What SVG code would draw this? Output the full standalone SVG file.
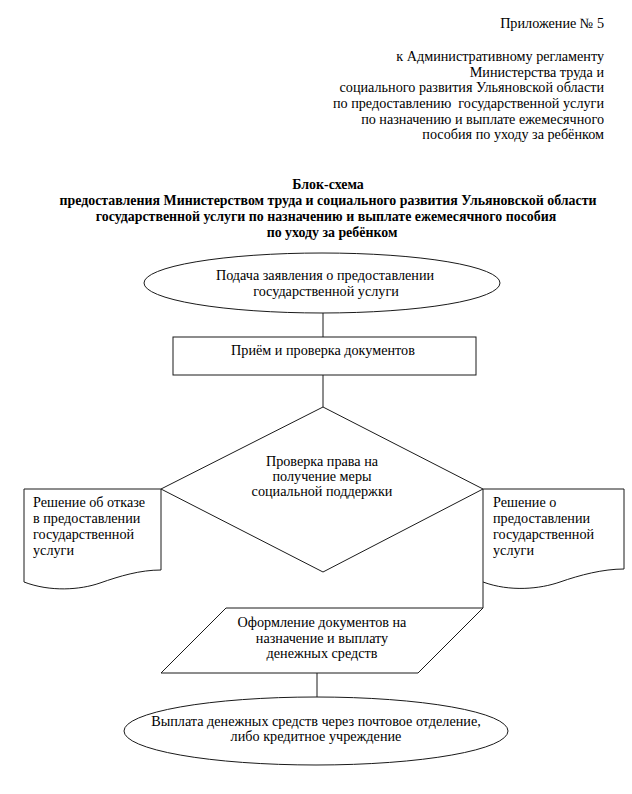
<svg xmlns="http://www.w3.org/2000/svg" width="632" height="794" viewBox="0 0 632 794">
<style>
text{font-family:"Liberation Serif","Times New Roman",serif;font-size:14.2px;fill:#000}
.r{text-anchor:end}
.c{text-anchor:middle}
.b{font-weight:bold;text-anchor:middle;font-size:13.9px}
.s{fill:#fff;stroke:#1a1a1a;stroke-width:1}
.ln{stroke:#1a1a1a;stroke-width:1;fill:none}
</style>
<rect width="632" height="794" fill="#fff"/>
<g id="header">
<text class="r" x="604" y="28">Приложение № 5</text>
<text class="r" x="604" y="61">к Административному регламенту</text>
<text class="r" x="604" y="77">Министерства труда и</text>
<text class="r" x="604" y="92">социального развития Ульяновской области</text>
<text class="r" x="604" y="108" xml:space="preserve">по предоставлению  государственной услуги</text>
<text class="r" x="604" y="124">по назначению и выплате ежемесячного</text>
<text class="r" x="604" y="139">пособия по уходу за ребёнком</text>
</g>
<g id="title">
<text class="b" x="328" y="189">Блок-схема</text>
<text class="b" x="328" y="205">предоставления Министерством труда и социального развития Ульяновской области</text>
<text class="b" x="326" y="221">государственной услуги по назначению и выплате ежемесячного пособия</text>
<text class="b" x="332" y="237">по уходу за ребёнком</text>
</g>
<g id="connectors">
<line class="ln" x1="323" y1="313" x2="323" y2="337"/>
<line class="ln" x1="323" y1="375" x2="323" y2="407"/>
<line class="ln" x1="483" y1="582" x2="483" y2="608"/>
<line class="ln" x1="317" y1="673" x2="317" y2="698"/>
</g>
<g id="start">
<ellipse class="s" cx="322" cy="283" rx="178" ry="30"/>
<text class="c" x="325" y="280">Подача заявления о предоставлении</text>
<text class="c" x="326" y="296">государственной услуги</text>
</g>
<g id="receive">
<rect class="s" x="173" y="337" width="303" height="38"/>
<text class="c" x="323" y="355">Приём и проверка документов</text>
</g>
<g id="check">
<polygon class="s" points="323,407 483,489 323,572 161,489"/>
<text class="c" x="322" y="466">Проверка права на</text>
<text class="c" x="322" y="481">получение меры</text>
<text class="c" x="322" y="496">социальной поддержки</text>
</g>
<g id="refusal">
<path class="s" d="M24,489 H161 V570 C140,570 120,576 100,583 C80,590 50,592 24,582 Z"/>
<text x="33" y="507">Решение об отказе</text>
<text x="33" y="523">в предоставлении</text>
<text x="33" y="539">государственной</text>
<text x="33" y="555">услуги</text>
</g>
<g id="approval">
<path class="s" d="M483,489 H624 V569 C603,569 580,575 560,582 C540,589 510,592 483,582 Z"/>
<text x="493" y="507">Решение о</text>
<text x="493" y="523">предоставлении</text>
<text x="493" y="539">государственной</text>
<text x="493" y="555">услуги</text>
</g>
<g id="documents">
<polygon class="s" points="226,608 483,608 418,673 161,673"/>
<text class="c" x="322" y="627">Оформление документов на</text>
<text class="c" x="322" y="643">назначение и выплату</text>
<text class="c" x="322" y="658">денежных средств</text>
</g>
<g id="payment">
<ellipse class="s" cx="316" cy="731" rx="192" ry="34"/>
<text class="c" x="316" y="726">Выплата денежных средств через почтовое отделение,</text>
<text class="c" x="316" y="741">либо кредитное учреждение</text>
</g>
</svg>
